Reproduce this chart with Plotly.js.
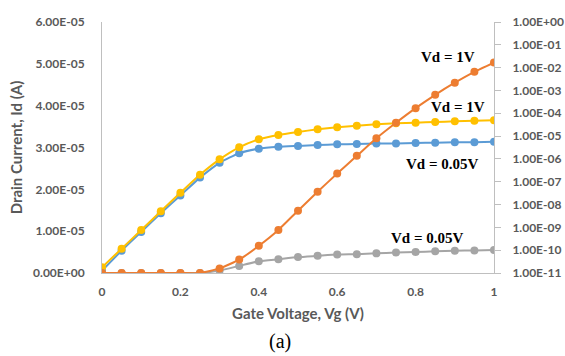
<!DOCTYPE html>
<html>
<head>
<meta charset="utf-8">
<script src="https://cdn.plot.ly/plotly-3.0.1.min.js"></script>
<style>html,body{margin:0;padding:0;background:#fff;}#chart{width:565px;height:356px;}</style>
</head>
<body>
<div id="chart"></div>
<script>
// Gate voltage (V)
const vg = [0,0.05,0.1,0.15,0.2,0.25,0.3,0.35,0.4,0.45,0.5,0.55,0.6,0.65,0.7,0.75,0.8,0.85,0.9,0.95,1];
// Linear scale drain current (A), left axis
const idLinVd1 = [0,0,0,0,0,0,0.11e-5,0.32e-5,0.65e-5,1.03e-5,1.49e-5,1.94e-5,2.38e-5,2.80e-5,3.22e-5,3.59e-5,3.94e-5,4.26e-5,4.55e-5,4.81e-5,5.03e-5];
const idLinVd005 = [0,0,0,0,0,0,0.06e-5,0.17e-5,0.28e-5,0.33e-5,0.38e-5,0.41e-5,0.44e-5,0.45e-5,0.47e-5,0.49e-5,0.50e-5,0.52e-5,0.53e-5,0.54e-5,0.55e-5];
// Log scale drain current (log10 of A), right axis
const log10IdVd1 = [-10.75,-9.935,-9.116,-8.296,-7.481,-6.692,-6.018,-5.492,-5.141,-4.953,-4.821,-4.703,-4.615,-4.545,-4.484,-4.440,-4.414,-4.383,-4.352,-4.326,-4.308];
const log10IdVd005 = [-10.90,-10.02,-9.20,-8.38,-7.60,-6.82,-6.17,-5.75,-5.55,-5.47,-5.43,-5.39,-5.36,-5.35,-5.33,-5.32,-5.30,-5.29,-5.27,-5.27,-5.25];
// Tick labels
const leftTickVals = [0,1e-5,2e-5,3e-5,4e-5,5e-5,6e-5];
const leftTickText = ["0.00E+00","1.00E-05","2.00E-05","3.00E-05","4.00E-05","5.00E-05","6.00E-05"];
const rightTickExp = [-11,-10,-9,-8,-7,-6,-5,-4,-3,-2,-1,0];
const rightTickText = ["1.00E-11","1.00E-10","1.00E-09","1.00E-08","1.00E-07","1.00E-06","1.00E-05","1.00E-04","1.00E-03","1.00E-02","1.00E-01","1.00E+00"];
// Labels
const labelTexts = ["Vd = 1V","Vd = 1V","Vd = 0.05V","Vd = 0.05V"];

const pow10 = a => a.map(v => Math.pow(10, v));
const colors = {blue:"#5B9BD5", yellow:"#FFC000", orange:"#ED7D31", gray:"#A5A5A5"};
const fam = "Lato, 'Open Sans', sans-serif";
const tickFont = {family:fam, size:12, color:"#595959", weight:"bold"};

function tr(y, axis, color, name){
  return {x: vg, y: y, yaxis: axis, type:"scatter", mode:"lines+markers", name: name,
    line:{color: color, width:2, shape:"spline", smoothing:0.5},
    marker:{color: color, size:8}, hoverinfo:"x+y"};
}

const data = [
  tr(pow10(log10IdVd005), "y", colors.blue, "Vd = 0.05V (log)"),
  tr(pow10(log10IdVd1), "y", colors.yellow, "Vd = 1V (log)"),
  tr(idLinVd005, "y2", colors.gray, "Vd = 0.05V (linear)"),
  tr(idLinVd1, "y2", colors.orange, "Vd = 1V (linear)")
];

const annFont = {family:"'Liberation Serif', 'Times New Roman', serif", size:15, color:"#000", weight:"bold"};
const layout = {
  width:565, height:356,
  margin:{l:102, r:71, t:22, b:83},
  paper_bgcolor:"#fff", plot_bgcolor:"#fff",
  showlegend:false,
  xaxis:{range:[0,1], dtick:0.2, tick0:0, showgrid:false, zeroline:false,
    showline:true, linecolor:"#BFBFBF", linewidth:1, ticks:"",
    tickfont: tickFont, ticklabelstandoff:8,
    title:{text:"Gate Voltage, Vg (V)", font:{family:fam, size:15, color:"#595959", weight:"bold"}, standoff:10}},
  yaxis:{type:"log", side:"right", range:[-11,0], tickvals: pow10(rightTickExp), ticktext: rightTickText,
    showgrid:false, zeroline:false, showline:true, linecolor:"#BFBFBF", linewidth:1,
    ticks:"outside", ticklen:6, tickcolor:"#BFBFBF", tickfont: tickFont, ticklabelstandoff:9},
  yaxis2:{overlaying:"y", side:"left", range:[0,6e-5], tickvals:leftTickVals, ticktext:leftTickText,
    showgrid:false, zeroline:false, showline:true, linecolor:"#BFBFBF", linewidth:1, ticks:"",
    tickfont: tickFont, ticklabelstandoff:14,
    title:{text:"Drain Current, Id (A)", font:{family:fam, size:15, color:"#595959", weight:"bold"}, standoff:6}},
  annotations:[
    {text:labelTexts[0], xref:"x", yref:"y2", x:0.883, y:5.16e-5, showarrow:false, font:annFont},
    {text:labelTexts[1], xref:"x", yref:"y2", x:0.908, y:3.97e-5, showarrow:false, font:annFont},
    {text:labelTexts[2], xref:"x", yref:"y2", x:0.867, y:2.61e-5, showarrow:false, font:annFont},
    {text:labelTexts[3], xref:"x", yref:"y2", x:0.828, y:0.84e-5, showarrow:false, font:annFont},
    {text:"(a)", xref:"paper", yref:"paper", x:0.4545, y:-0.271, yanchor:"middle", showarrow:false,
      font:{family:"'Liberation Serif', 'Times New Roman', serif", size:20, color:"#000"}}
  ]
};
Plotly.newPlot("chart", data, layout, {staticPlot:true, displayModeBar:false});
</script>
</body>
</html>
